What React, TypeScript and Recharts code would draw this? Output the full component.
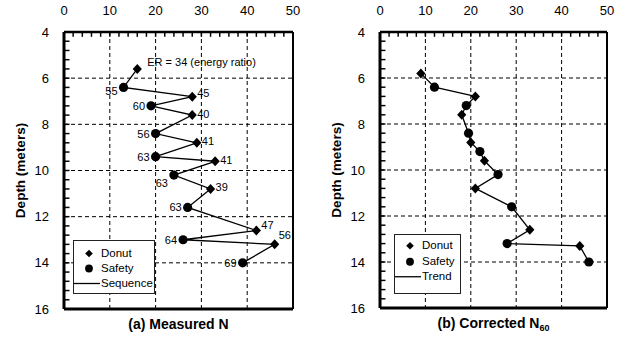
import React from 'react';
import { ScatterChart, Scatter, XAxis, YAxis, Legend, Label, ReferenceLine, ReferenceArea } from 'recharts';

const FONT = '"Liberation Sans", Arial, Helvetica, sans-serif';

// axis ticks: labelled majors, plus minor marks every 2 / 0.4
const nTicks = [0, 10, 20, 30, 40, 50];
const depthTicks = [4, 6, 8, 10, 12, 14, 16];
const nMinorTicks = Array.from({ length: 24 }, (_, i) => (i + 1) * 2);
const depthMinorTicks = Array.from({ length: 29 }, (_, i) => Math.round((4.4 + i * 0.4) * 10) / 10);

// hammer type of each test, top to bottom
const hammerType = [
  'Donut', 'Safety', 'Donut', 'Safety', 'Donut', 'Safety', 'Donut', 'Safety',
  'Donut', 'Safety', 'Donut', 'Safety', 'Donut', 'Safety', 'Donut', 'Safety',
];

// (a) measured N
const measuredDepth = [5.6, 6.4, 6.8, 7.2, 7.6, 8.4, 8.8, 9.4, 9.6, 10.2, 10.8, 11.6, 12.6, 13.0, 13.2, 14.0];
const measuredN = [16, 13, 28, 19, 28, 20, 29, 20, 33, 24, 32, 27, 42, 26, 46, 39];
const energyRatio = [34, 55, 45, 60, 40, 56, 41, 63, 41, 63, 39, 63, 47, 64, 56, 69];

// (b) corrected N60
const correctedDepth = [5.8, 6.4, 6.8, 7.2, 7.6, 8.4, 8.8, 9.2, 9.6, 10.2, 10.8, 11.6, 12.6, 13.2, 13.3, 14.0];
const correctedN60 = [9, 12, 21, 19, 18, 19.5, 20, 22, 23, 26, 21, 29, 33, 28, 44, 46];

type Row = { i: number; depth: number; n: number; hammer: string; label: string };

const measuredRows: Row[] = measuredDepth.map((d, i) => ({
  i,
  depth: d,
  n: measuredN[i],
  hammer: hammerType[i],
  label: i === 0 ? `ER = ${energyRatio[i]} (energy ratio)` : String(energyRatio[i]),
}));

const correctedRows: Row[] = correctedDepth.map((d, i) => ({
  i,
  depth: d,
  n: correctedN60[i],
  hammer: hammerType[i],
  label: '',
}));

function Diamond(p: any) {
  const { cx, cy } = p;
  if (cx == null || cy == null) return <g />;
  return (
    <polygon
      points={`${cx},${cy - 5} ${cx + 4.6},${cy} ${cx},${cy + 5} ${cx - 4.6},${cy}`}
      fill="#000"
    />
  );
}

function Dot(p: any) {
  if (p.cx == null || p.cy == null) return <g />;
  return <circle cx={p.cx} cy={p.cy} r={4.6} fill="#000" />;
}

// nudges for labels that sit off the usual side
const labelTweak: Record<number, [number, number, 'start' | 'end']> = {
  0: [10, -6.5, 'start'],
  1: [-6, 4, 'end'],
  2: [5, -3.5, 'start'],
  9: [-6, 7.5, 'end'],
  12: [5, -6, 'start'],
  14: [4, -9, 'start'],
};

function ErLabel(p: any) {
  const row: Row | undefined = p.payload;
  if (!row || !row.label || p.cx == null) return <g />;
  const base: [number, number, 'start' | 'end'] =
    row.hammer === 'Safety' ? [-6, 0, 'end'] : [5, -1.5, 'start'];
  const [dx, dy, anchor] = labelTweak[row.i] ?? base;
  return (
    <text
      x={p.cx + dx}
      y={p.cy + dy + 4}
      textAnchor={anchor}
      fontSize={11}
      fontFamily={FONT}
      fill="#000"
    >
      {row.label}
    </text>
  );
}

function NoMark() {
  return <g />;
}

function LegendBox({ lineName, width, height, padTop, rowH }: any) {
  const rows = [
    { key: 'Donut', icon: <polygon points="15,-3.8 18.8,0 15,3.8 11.2,0" fill="#000" /> },
    { key: 'Safety', icon: <circle cx={15} cy={0} r={3.9} fill="#000" /> },
    { key: lineName, icon: <line x1={0} x2={26} y1={0} y2={0} stroke="#000" strokeWidth={1.3} /> },
  ];
  return (
    <div
      style={{
        width,
        height,
        boxSizing: 'border-box',
        border: '1px solid #222',
        background: '#fff',
        paddingTop: padTop,
        fontFamily: FONT,
        fontSize: 11.5,
        color: '#000',
      }}
    >
      {rows.map((r) => (
        <div key={r.key} style={{ display: 'flex', alignItems: 'center', height: rowH, lineHeight: `${rowH}px` }}>
          <svg width={27} height={rowH} style={{ display: 'block', overflow: 'visible' }}>
            <g transform={`translate(0,${rowH / 2})`}>{r.icon}</g>
          </svg>
          <span style={{ whiteSpace: 'nowrap' }}>{r.key}</span>
        </div>
      ))}
    </div>
  );
}

function Panel({ rows, left, marginRight, marginBottom, title, lineName, legend }: any) {
  const donutRows = rows.filter((r: Row) => r.hammer === 'Donut');
  const safetyRows = rows.filter((r: Row) => r.hammer === 'Safety');
  const grid = { stroke: '#000', strokeWidth: 1, strokeDasharray: '4 3' };
  const tickStyle = { fill: '#000', fontSize: 13, fontFamily: FONT };
  const mark = { fill: '#000', fillOpacity: 1, stroke: 'none', ifOverflow: 'visible' as const };

  return (
    <div style={{ position: 'absolute', left, top: 0 }}>
      <ScatterChart
        width={315}
        height={339}
        margin={{ top: 8, right: marginRight, bottom: marginBottom, left: 40 }}
        style={{ fontFamily: FONT }}
      >
        {/* dashed grid on the labelled ticks */}
        {nTicks.slice(1, -1).map((t) => (
          <ReferenceLine key={`gx${t}`} x={t} {...grid} />
        ))}
        {depthTicks.slice(1, -1).map((t) => (
          <ReferenceLine key={`gy${t}`} y={t} {...grid} />
        ))}

        {/* minor tick marks along the top and left frame */}
        {nMinorTicks.map((t) => (
          <ReferenceArea key={`mx${t}`} x1={t - 0.16} x2={t + 0.16} y1={4} y2={4.21} {...mark} />
        ))}
        {depthMinorTicks.map((t) => (
          <ReferenceArea key={`my${t}`} x1={0} x2={1.2} y1={t - 0.032} y2={t + 0.032} {...mark} />
        ))}

        <XAxis
          orientation="top"
          type="number"
          dataKey="n"
          domain={[0, 50]}
          ticks={nTicks}
          interval={0}
          height={24}
          tickLine={false}
          tickSize={0}
          tickMargin={17.5}
          tick={tickStyle}
          axisLine={false}
        />
        <YAxis
          type="number"
          dataKey="depth"
          domain={[4, 16]}
          reversed
          ticks={depthTicks}
          interval={0}
          width={24}
          tickLine={false}
          tickSize={0}
          tickMargin={15}
          tick={tickStyle}
          axisLine={false}
        >
          <Label
            content={(p: any) => {
              const vb = p.viewBox || { x: 40, y: 32, height: 277 };
              const x = vb.x - 20;
              const y = vb.y + vb.height / 2;
              return (
                <text
                  x={x}
                  y={y}
                  transform={`rotate(-90 ${x} ${y})`}
                  textAnchor="middle"
                  dominantBaseline="central"
                  fontSize={13.5}
                  fontWeight="bold"
                  fontFamily={FONT}
                  fill="#000"
                >
                  Depth (meters)
                </text>
              );
            }}
          />
        </YAxis>

        {/* plot frame */}
        <ReferenceLine x={50} stroke="#000" strokeWidth={2} />
        <ReferenceLine x={0} stroke="#000" strokeWidth={3} />
        <ReferenceLine y={4} stroke="#000" strokeWidth={2.5} />
        <ReferenceLine y={16} stroke="#000" strokeWidth={3}>
          <Label
            content={(p: any) => {
              const vb = p.viewBox || { x: 64, y: 309, width: 229 };
              return (
                <text
                  x={vb.x + vb.width / 2}
                  y={vb.y + 20}
                  textAnchor="middle"
                  fontSize={14}
                  fontWeight="bold"
                  fontFamily={FONT}
                  fill="#000"
                >
                  {title}
                </text>
              );
            }}
          />
        </ReferenceLine>

        <Scatter
          data={rows}
          fill="#000"
          line={{ stroke: '#000', strokeWidth: 1.3 }}
          lineType="joint"
          shape={lineName === 'Sequence' ? ErLabel : NoMark}
          isAnimationActive={false}
        />
        <Scatter data={donutRows} fill="#000" shape={Diamond} isAnimationActive={false} />
        <Scatter data={safetyRows} fill="#000" shape={Dot} isAnimationActive={false} />

        <Legend
          layout="vertical"
          align="center"
          verticalAlign="middle"
          wrapperStyle={{ left: legend.left, top: legend.top, width: legend.width, height: legend.height }}
          content={() => (
            <LegendBox
              lineName={lineName}
              width={legend.width}
              height={legend.height}
              padTop={legend.padTop}
              rowH={legend.rowH}
            />
          )}
        />
      </ScatterChart>
    </div>
  );
}

export default function App() {
  return (
    <div
      style={{
        position: 'absolute',
        left: 0,
        top: 0,
        width: 631,
        height: 339,
        background: '#fff',
        fontFamily: FONT,
      }}
    >
      <Panel
        rows={measuredRows}
        left={0}
        marginRight={22}
        marginBottom={30}
        lineName="Sequence"
        title={<tspan>(a) Measured N</tspan>}
        legend={{ left: 73, top: 240, width: 82, height: 54, padTop: 5, rowH: 15 }}
      />
      <Panel
        rows={correctedRows}
        left={316}
        marginRight={24}
        marginBottom={31}
        lineName="Trend"
        title={
          <>
            <tspan>(b) Corrected N</tspan>
            <tspan fontSize={9} dy={3}>60</tspan>
          </>
        }
        legend={{ left: 78, top: 234, width: 67, height: 60, padTop: 3, rowH: 15.5 }}
      />
    </div>
  );
}
